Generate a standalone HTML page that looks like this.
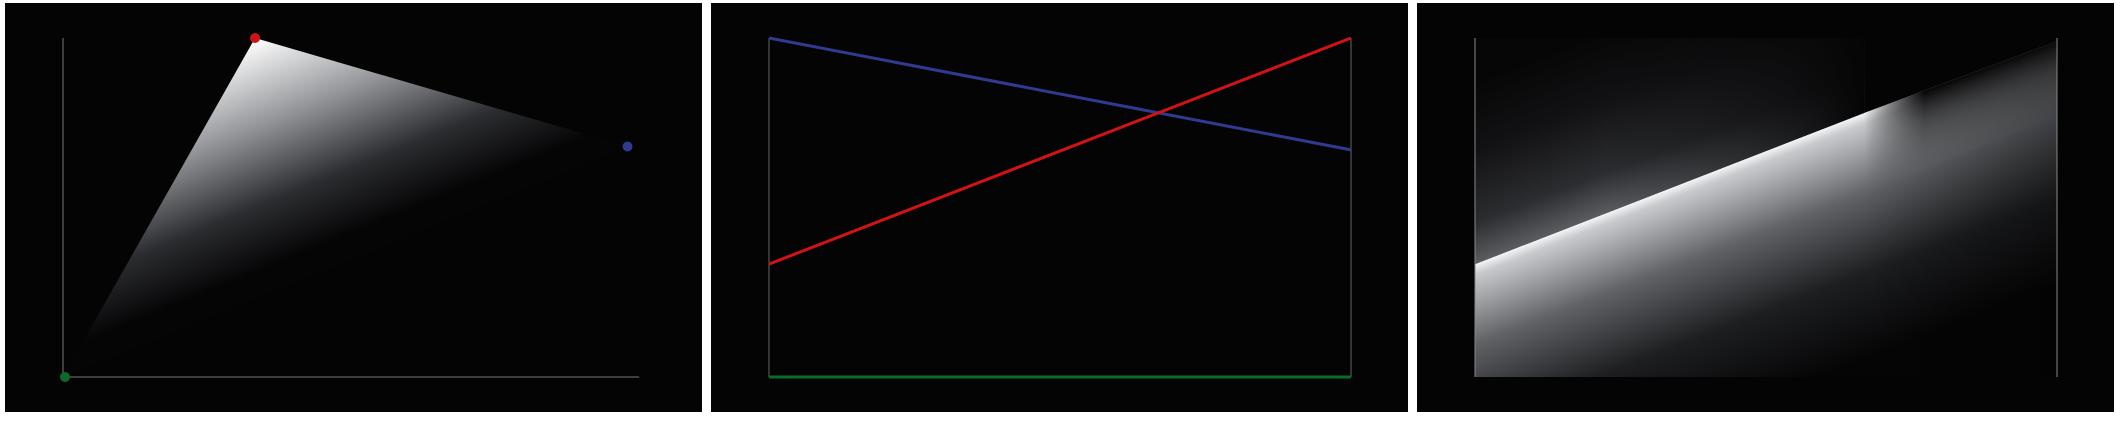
<!DOCTYPE html>
<html><head><meta charset="utf-8"><style>
html,body{margin:0;padding:0;background:#fff;width:2116px;height:421px;overflow:hidden;font-family:"Liberation Sans",sans-serif}
svg{position:absolute;top:0;left:0}
</style></head><body>
<svg id="chart" width="2116" height="421" viewBox="0 0 2116 421" xmlns="http://www.w3.org/2000/svg">
<defs></defs>
</svg>
<script>
const vertexLabels = ["green", "red", "blue"];
const vertexX = [0, 0.33, 0.97];
const vertexY = [0, 1.0, 0.68];
const lineNames = ["blue", "red", "green"];
const lineStart = [1.0, 0.333, 0];
const lineEnd = [0.67, 1.0, 0];
const colors = {green:"#0c6a28", red:"#d11313", blue:"#303a8e"};

const NS = "http://www.w3.org/2000/svg";
const svg = document.getElementById('chart');
const defs = svg.querySelector('defs');
const panelX = [5, 711, 1417];
const PW = 697, PY = 3, PH = 409;
const X0 = 58, X1 = 640, Y0 = 377, Y1 = 38;
function sx(p, v){ return panelX[p] + X0 + v * (X1 - X0); }
function sy(v){ return Y0 - v * (Y0 - Y1); }
function mk(tag, attrs, parent){
  const e = document.createElementNS(NS, tag);
  for (const k in attrs) e.setAttribute(k, attrs[k]);
  (parent || svg).appendChild(e);
  return e;
}
function grad(id, x1, y1, x2, y2, stops){
  const g = mk('linearGradient', {id:id, gradientUnits:'userSpaceOnUse', x1:x1, y1:y1, x2:x2, y2:y2}, defs);
  stops.forEach(s => mk('stop', {offset:s[0], 'stop-color':s[1], 'stop-opacity': s[2] === undefined ? 1 : s[2]}, g));
}
function ptsStr(a){ return a.map(q => q.join(',')).join(' '); }

// panels
for (let p = 0; p < 3; p++) {
  const r = mk('rect', {x:panelX[p], y:PY, width:PW, height:PH, fill:'#040405'});
  
  
}

// ---- Panel 1: gradient triangle
const pts = vertexX.map((x, i) => [sx(0, x), sy(vertexY[i])]);
{
  const [g, rd, b] = pts;
  const dx = b[0] - g[0], dy = b[1] - g[1];
  const t = ((rd[0] - g[0]) * dx + (rd[1] - g[1]) * dy) / (dx * dx + dy * dy);
  const fx = g[0] + t * dx, fy = g[1] + t * dy;
  grad('g1', rd[0], rd[1], fx, fy, [[0,'#ffffff'],[0.35,'#909296'],[0.65,'#2c2d30'],[0.9,'#050506']]);
  const tri = mk('polygon', {points: ptsStr(pts), fill:'url(#g1)'});
  
  
}
const ya = mk('line', {x1:sx(0,0), y1:Y1, x2:sx(0,0), y2:Y0, stroke:'#777', 'stroke-width':1});


const xa = mk('line', {x1:sx(0,0), y1:Y0, x2:sx(0,0.99), y2:Y0, stroke:'#777', 'stroke-width':1});


pts.forEach((q, i) => {
  const c = mk('circle', {cx:q[0] + (i === 0 ? 2 : 0), cy:q[1], r:5, fill:colors[vertexLabels[i]]});
  
  
});

// ---- Panel 2: lines
for (const v of [0, 1]) {
  const l = mk('line', {x1:sx(1,v), y1:Y1, x2:sx(1,v), y2:Y0, stroke:'#666', 'stroke-width':1});
  
  
}
lineNames.forEach((n, i) => {
  const l = mk('line', {x1:sx(1,0), y1:sy(lineStart[i]), x2:sx(1,1), y2:sy(lineEnd[i]), stroke:colors[n], 'stroke-width':3});
  
  
});

// ---- Panel 3: gradient field
{
  const A = [sx(2,0), sy(lineStart[1])];
  const crossT = (lineStart[0] - lineStart[1]) / ((lineEnd[1] - lineStart[1]) - (lineEnd[0] - lineStart[0]));
  const P = [sx(2,crossT), sy(lineStart[1] + crossT * (lineEnd[1] - lineStart[1]))];
  const TR = [sx(2,1), sy(0.99)];
  const BR = [sx(2,1), Y0], BL = [sx(2,0), Y0], PB = [P[0], Y0];
  const dx = P[0] - A[0], dy = P[1] - A[1];
  const L = Math.hypot(dx, dy); const nx = -dy / L, ny = dx / L;
  const mx = (A[0] + P[0]) / 2, my = (A[1] + P[1]) / 2;

  grad('g3b', mx, my, mx + nx * 250, my + ny * 250, [[0,'#f4f5f7'],[0.04,'#c8cacd'],[0.3,'#606266'],[0.6,'#1d1e20'],[0.92,'#050506']]);
  const below = mk('polygon', {points:ptsStr([A, P, TR, BR, BL]), fill:'url(#g3b)'});
  
  

  grad('g3d', P[0], 0, TR[0], 0, [[0,'#000',0],[1,'#000',0.35]]);
  const dim = mk('polygon', {points:ptsStr([P, TR, BR, PB]), fill:'url(#g3d)'});
  
  

  const mask = mk('mask', {id:'m3', maskUnits:'userSpaceOnUse', x:0, y:0, width:2116, height:421}, defs);
  grad('g3m', P[0], 0, P[0] + 60, 0, [[0,'#000'],[1,'#fff']]);
  mk('rect', {x:0, y:0, width:2116, height:421, fill:'url(#g3m)'}, mask);
  const ex = (P[0] + TR[0]) / 2, ey = (P[1] + TR[1]) / 2;
  grad('g3e', ex, ey, ex + nx * 70, ey + ny * 70, [[0,'#050506',1],[0.4,'#050506',0.55],[1,'#050506',0]]);
  const edge = mk('polygon', {points:ptsStr([P, TR, BR, PB]), fill:'url(#g3e)', mask:'url(#m3)'});
  
  

  grad('g3a', mx, my, mx - nx * 190, my - ny * 190, [[0,'#5a5c60'],[0.2,'#2c2d30'],[0.55,'#121214'],[0.9,'#060607']]);
  const abovePts = [A, P, [P[0], Y1], [sx(2,0), Y1]];
  const above = mk('polygon', {points:ptsStr(abovePts), fill:'url(#g3a)'});
  
  
  grad('g3p', P[0] - 260, 0, P[0], 0, [[0,'#050506',0],[1,'#050506',1]]);
  const fade = mk('polygon', {points:ptsStr(abovePts), fill:'url(#g3p)'});
  
  

  for (const v of [0, 1]) {
    const l = mk('line', {x1:sx(2,v), y1:Y1, x2:sx(2,v), y2:Y0, stroke:'#888', 'stroke-width':1});
    
    
  }
}
</script>
</body></html>
